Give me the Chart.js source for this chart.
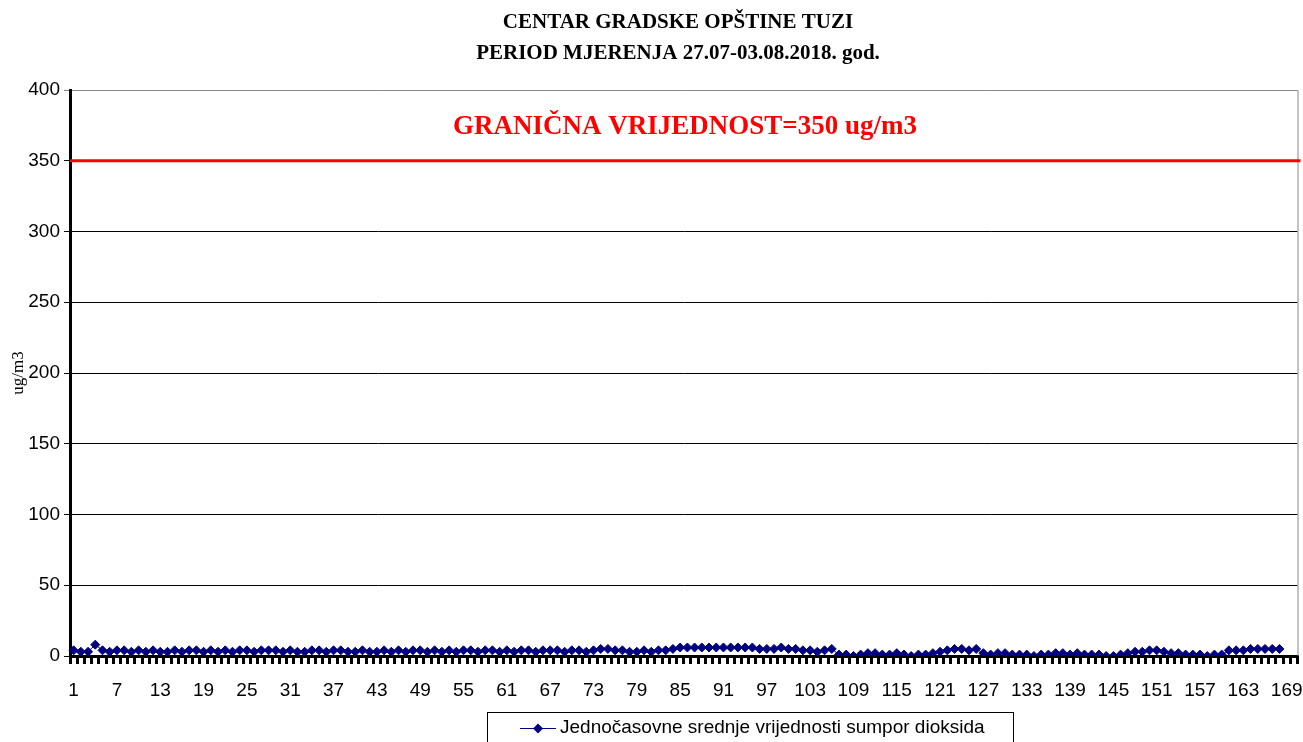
<!DOCTYPE html>
<html>
<head>
<meta charset="utf-8">
<script src="https://cdn.jsdelivr.net/npm/chart.js@4/dist/chart.umd.min.js"></script>
<style>
  html, body { margin: 0; padding: 0; background: #fff; }
  #wrap { width: 1303px; height: 742px; position: relative; }
</style>
</head>
<body>
<div id="wrap"><canvas id="so2Chart"></canvas></div>
<script>
// hours of the measuring period (category axis has 170 slots, data fills 168)
const hours = Array.from({ length: 170 }, (_, i) => String(i + 1));

// hourly SO2 means (ug/m3)
const so2Day1 = [4,3,3,8,4,3,4,4,3,4,3,4,3,3,4,3,4,4,3,4,3,4,3,4,4,3,4,4,4,3];
const so2Day2 = [4,3,3,4,4,3,4,4,3,3,4,3,3,4,3,4,3,4,4,3,4,3,4,3,4,4,3,4,4,3];
const so2Day3 = [4,3,4,4,3,4,4,4,3,4,4,3,4,5,5,4,4,3,3,4,3,4,4,5,6,6,6,6,6,6];
const so2Day4 = [6,6,6,6,6,5,5,5,6,5,5,4,4,3,4,5,1,1,0,1,2,2,1,1,2,1,0,1,1,2];
const so2Day5 = [3,4,5,5,4,5,2,1,2,2,1,1,1,0,1,1,2,2,1,2,1,1,1,0,0,1,2,3,3,4];
const so2Day6 = [4,3,2,2,1,1,1,0,1,1,4,4,4,5,5,5,5,5];
const so2Values = [].concat(so2Day1, so2Day2, so2Day3, so2Day4, so2Day5, so2Day6);

const yTicks = [0, 50, 100, 150, 200, 250, 300, 350, 400];
const limitValue = 350;
const limitLabel = 'GRANIČNA VRIJEDNOST=350 ug/m3';
const seriesName = 'Jednočasovne srednje vrijednosti sumpor dioksida';
const titleLines = ['CENTAR GRADSKE OPŠTINE TUZI', 'PERIOD MJERENJA 27.07-03.08.2018. god.'];

const NAVY = '#000080';
const SERIF = '"Liberation Serif", "Times New Roman", serif';
const SANS = '"Liberation Sans", Arial, sans-serif';

// title, limit line, its label, plot frame and legend box
const extrasPlugin = {
    id: 'extras',
    afterDatasetsDraw(chart) {
        const { ctx, chartArea, scales } = chart;
        const yLimit = scales.y.getPixelForValue(limitValue);
        ctx.save();
        // right border of plot area
        ctx.strokeStyle = '#888';
        ctx.lineWidth = 1;
        ctx.beginPath();
        ctx.moveTo(chartArea.right + 0.5, chartArea.top);
        ctx.lineTo(chartArea.right + 0.5, chartArea.bottom);
        ctx.stroke();
        // limit line
        ctx.strokeStyle = '#ff0000';
        ctx.lineWidth = 3;
        ctx.beginPath();
        ctx.moveTo(chartArea.left, yLimit);
        ctx.lineTo(chartArea.right + 3, yLimit);
        ctx.stroke();
        // limit label
        ctx.fillStyle = '#ff0000';
        ctx.font = 'bold 27px ' + SERIF;
        ctx.textAlign = 'center';
        ctx.textBaseline = 'middle';
        ctx.fillText(limitLabel, 685, scales.y.getPixelForValue(375) + 2);
        ctx.restore();
    },
    afterDraw(chart) {
        const ctx = chart.ctx;
        ctx.save();
        // title
        ctx.fillStyle = '#000';
        ctx.textAlign = 'center';
        ctx.textBaseline = 'middle';
        ctx.font = 'bold 21px ' + SERIF;
        ctx.fillText(titleLines[0], 678, 23);
        ctx.fillText(titleLines[1], 678, 54);
        // legend
        const bx = 487, by = 712, bw = 526;
        ctx.strokeStyle = '#000';
        ctx.lineWidth = 1;
        ctx.strokeRect(bx + 0.5, by + 0.5, bw, 40);
        const ly = 728;
        ctx.strokeStyle = NAVY;
        ctx.beginPath();
        ctx.moveTo(520, ly + 0.5);
        ctx.lineTo(556, ly + 0.5);
        ctx.stroke();
        ctx.fillStyle = NAVY;
        ctx.beginPath();
        ctx.moveTo(538, ly - 4.5); ctx.lineTo(543, ly + 0.5); ctx.lineTo(538, ly + 5.5); ctx.lineTo(533, ly + 0.5);
        ctx.closePath();
        ctx.fill();
        ctx.fillStyle = '#000';
        ctx.textAlign = 'left';
        ctx.font = '19px ' + SANS;
        ctx.fillText(seriesName, 560, ly);
        ctx.restore();
    }
};

document.addEventListener('DOMContentLoaded', function() {
    const ctx = document.getElementById('so2Chart');

    new Chart(ctx, {
        type: 'line',
        data: {
            labels: hours,
            datasets: [{
                label: seriesName,
                data: so2Values,
                borderColor: NAVY,
                backgroundColor: NAVY,
                borderWidth: 1,
                pointStyle: 'rectRot',
                pointRadius: 4.5,
                pointHoverRadius: 4.5,
                tension: 0
            }]
        },
        options: {
            responsive: true,
            maintainAspectRatio: false,
            animation: false,
            layout: { padding: { left: 0, right: 3, top: 90, bottom: 0 } },
            plugins: {
                title: { display: false },
                legend: { display: false },
                tooltip: { enabled: false }
            },
            scales: {
                x: {
                    type: 'category',
                    offset: true,
                    border: { color: '#000', width: 3 },
                    grid: {
                        display: true,
                        drawOnChartArea: false,
                        drawTicks: true,
                        tickLength: 8,
                        color: '#000',
                        lineWidth: 3,
                        offset: true
                    },
                    ticks: {
                        autoSkip: false,
                        maxRotation: 0,
                        color: '#000',
                        padding: 15,
                        font: { family: SANS, size: 19 },
                        callback: function(value, index) {
                            return index % 6 === 0 ? hours[index] : '';
                        }
                    },
                    afterFit: function(scale) {
                        scale.height = 86;
                        scale.paddingRight = 0;
                        scale.paddingLeft = 0;
                    }
                },
                y: {
                    min: 0,
                    max: 400,
                    afterBuildTicks: function(scale) {
                        scale.ticks = yTicks.map(v => ({ value: v }));
                    },
                    border: { color: '#000', width: 3 },
                    grid: {
                        color: function(c) { return c.tick && c.tick.value === 400 ? '#888' : '#000'; },
                        lineWidth: 1,
                        tickLength: 6
                    },
                    ticks: {
                        color: '#000',
                        padding: 4,
                        font: { family: SANS, size: 19 }
                    },
                    title: {
                        display: true,
                        text: 'ug/m3',
                        color: '#000',
                        font: { family: SERIF, size: 17 },
                        padding: { top: 8, bottom: 0 }
                    },
                    afterFit: function(scale) { scale.width = 70; }
                }
            }
        },
        plugins: [extrasPlugin]
    });
});
</script>
</body>
</html>
